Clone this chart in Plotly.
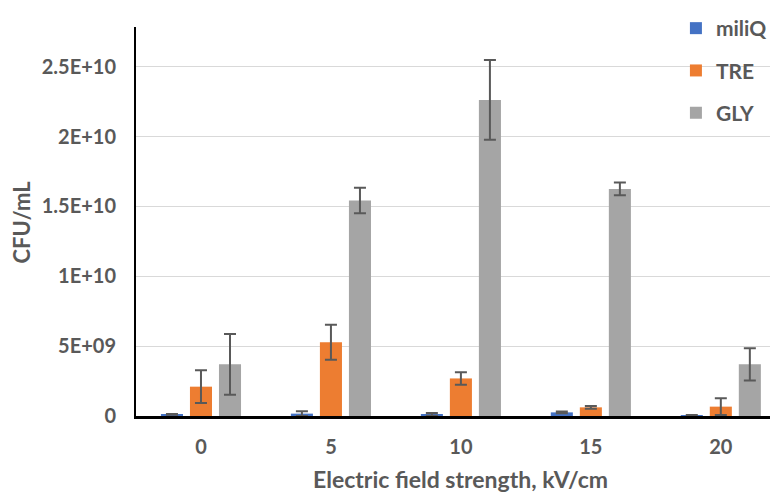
import plotly.graph_objects as go

categories = ["0", "5", "10", "15", "20"]
miliQ = [0.12e9, 0.17e9, 0.12e9, 0.26e9, 0.02e9]
miliQ_err = [0.03e9, 0.17e9, 0.10e9, 0.07e9, 0.05e9]
TRE = [2.10e9, 5.28e9, 2.69e9, 0.62e9, 0.67e9]
TRE_err = [1.17e9, 1.26e9, 0.45e9, 0.10e9, 0.60e9]
GLY = [3.70e9, 15.43e9, 22.63e9, 16.26e9, 3.70e9]
GLY_err = [2.17e9, 0.92e9, 2.85e9, 0.46e9, 1.15e9]

y_tickvals = [0, 5e9, 1e10, 1.5e10, 2e10, 2.5e10]
y_ticktext = ["0", "5E+09", "1E+10", "1.5E+10", "2E+10", "2.5E+10"]

x_title = "Electric field strength, kV/cm"
y_title = "CFU/mL"

series = [("miliQ", miliQ, miliQ_err, "#4472C4"),
          ("TRE", TRE, TRE_err, "#ED7D31"),
          ("GLY", GLY, GLY_err, "#A5A5A5")]

FONT = "Lato"
TXT = "#595959"

fig = go.Figure()
for name, vals, errs, col in series:
    fig.add_trace(go.Bar(
        x=categories, y=vals, name=name, legendgroup=name,
        marker=dict(color=col, line=dict(width=0)),
        error_y=dict(type="data", array=errs, visible=True,
                     color="#595959", thickness=2, width=6),
    ))

# the page body has an 8px margin, so the figure is sized/offset to fit the window
fig.update_layout(
    width=770, height=485,
    margin=dict(l=128, r=0, t=7, b=77),
    paper_bgcolor="white", plot_bgcolor="white",
    barmode="group", bargap=0.33, bargroupgap=0.24,
    font=dict(family=FONT, color=TXT, size=20),
    showlegend=True,
    legend=dict(x=0.841, y=1.05, xanchor="left", yanchor="top",
                bgcolor="rgba(0,0,0,0)", tracegroupgap=12,
                font=dict(family=FONT, size=21, color=TXT, weight="bold")),
    xaxis=dict(
        type="category", range=[-0.5, 4.44], automargin=False,
        showline=True, linecolor="#000000", linewidth=2.5,
        showgrid=False, ticks="outside", ticklen=11, tickcolor="rgba(0,0,0,0)",
        tickfont=dict(family=FONT, size=20, color=TXT, weight="bold"),
    ),
    yaxis=dict(
        range=[0, 2.785e10], automargin=False,
        tickvals=y_tickvals, ticktext=y_ticktext,
        showline=True, linecolor="#000000", linewidth=2,
        showgrid=True, gridcolor="#D9D9D9", gridwidth=1,
        zeroline=False, ticks="", ticklabelstandoff=14,
        tickfont=dict(family=FONT, size=20, color=TXT, weight="bold"),
    ),
    annotations=[
        dict(text=x_title, xref="paper", yref="paper", x=0.506, y=-0.162,
             xanchor="center", yanchor="middle", showarrow=False,
             font=dict(family=FONT, size=23, color=TXT, weight="bold")),
        dict(text=y_title, xref="paper", yref="paper", x=-0.1776, y=0.5,
             xanchor="center", yanchor="middle", showarrow=False, textangle=-90,
             font=dict(family=FONT, size=22, color=TXT, weight="bold")),
    ],
)

fig.write_html("out.html")
